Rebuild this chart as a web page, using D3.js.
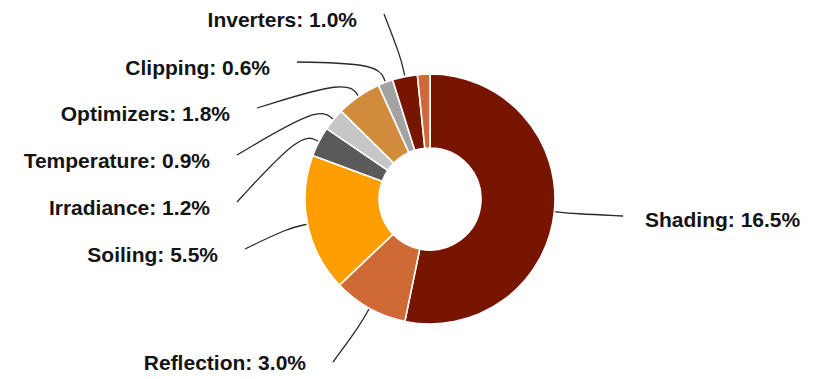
<!DOCTYPE html>
<html>
<head>
<meta charset="utf-8">
<style>
body{ margin:0; background:#fff; }
.label{
    font-family: "Liberation Sans", Arial, sans-serif;
    font-weight: bold;
    font-size: 21px;
    fill: #141414;
}
.leader{
    fill: none;
    stroke: #2a2a2a;
    stroke-width: 1.3;
}
</style>
<script src="https://d3js.org/d3.v7.min.js"></script>
</head>
<body>
<script>
var w = 819;
var h = 379;

// loss categories, clockwise from 12 o'clock
var categories = ["Shading", "Reflection", "Soiling", "Irradiance", "Temperature",
                  "Optimizers", "Clipping", "Inverters", "Other"];
var values = [16.5, 3.0, 5.5, 1.2, 0.9, 1.8, 0.6, 1.0, 0.5];
var labelTexts = ["Shading: 16.5%", "Reflection: 3.0%", "Soiling: 5.5%", "Irradiance: 1.2%",
                  "Temperature: 0.9%", "Optimizers: 1.8%", "Clipping: 0.6%", "Inverters: 1.0%", ""];
var colors = ["#771500", "#cf6936", "#ff9e00", "#5a5a5a", "#c6c6c6",
              "#d08c3c", "#a2a2a2", "#771500", "#cf6936"];

// where each label sits: x of its anchor edge, baseline y, anchor side
var labelPos = [
    [645, 227, "start"],
    [306, 370, "end"],
    [218, 262, "end"],
    [210, 215, "end"],
    [210, 168, "end"],
    [230, 121, "end"],
    [270, 75, "end"],
    [357, 27, "end"],
    null
];

var cx = 430, cy = 199;
var outerR = 125, innerR = 51;

var svg = d3.select("body")
            .append("svg")
            .attr("width", w)
            .attr("height", h);

var pie = d3.pie().sort(null).value(function(d){ return d; });
var arcs = pie(values);

var arc = d3.arc().innerRadius(innerR).outerRadius(outerR);

var g = svg.append("g").attr("transform", "translate(" + cx + "," + cy + ")");

g.selectAll("path.slice")
 .data(arcs)
 .enter()
 .append("path")
 .attr("class", "slice")
 .attr("d", arc)
 .attr("fill", function(d, i){ return colors[i]; })
 .attr("stroke", "#fff")
 .attr("stroke-width", 1.6);

// point on a ring at the slice's mid angle
function polar(a, r){
    return [cx + r * Math.sin(a), cy - r * Math.cos(a)];
}

var leader = d3.line().curve(d3.curveBasis);

arcs.forEach(function(d, i){
    var lp = labelPos[i];
    if (!lp) return;
    var mid = (d.startAngle + d.endAngle) / 2;
    var p0 = polar(mid, outerR + 1);
    var p1 = polar(mid, outerR + 20);
    var p2 = lp[2] == "start" ? [lp[0] - 22, lp[1] - 11] : [lp[0] + 27, lp[1] - 13];
    if (i == 1) p2 = [lp[0] + 27, lp[1] - 8];
    svg.append("path")
       .attr("class", "leader")
       .attr("d", leader([p0, p1, p2]));

    svg.append("text")
       .attr("class", "label")
       .attr("x", lp[0])
       .attr("y", lp[1])
       .attr("text-anchor", lp[2])
       .text(labelTexts[i]);
});
</script>
</body>
</html>
